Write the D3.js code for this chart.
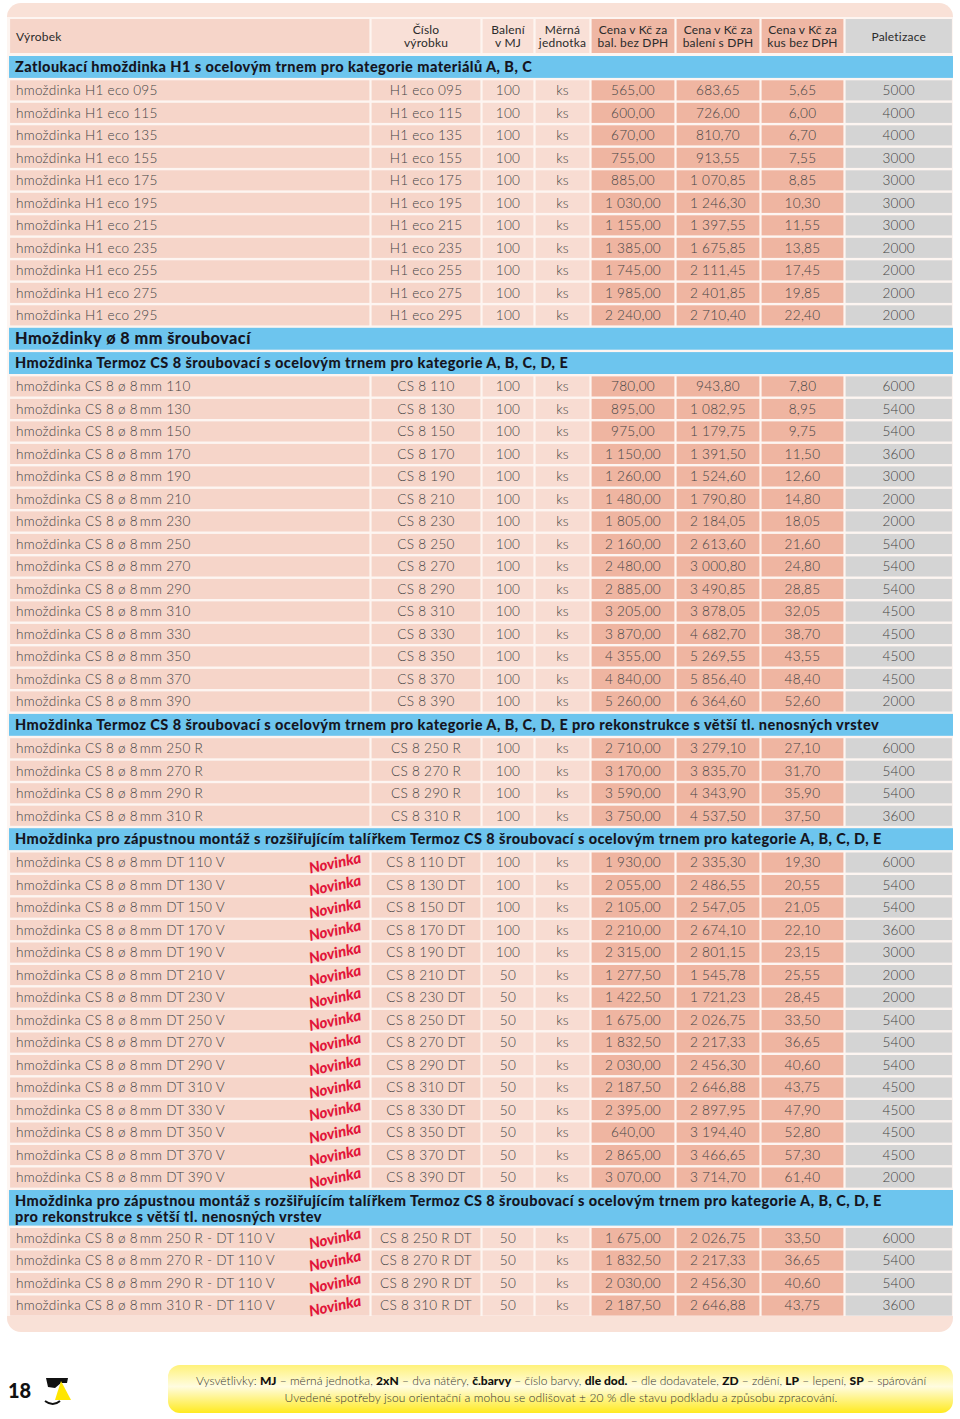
<!DOCTYPE html>
<html lang="cs">
<head>
<meta charset="UTF-8">
<title>Ceník hmoždinek</title>
<style>
    body { margin: 0; padding: 0; background: #fff; overflow: hidden; }
    svg { display: block; font-family: Lato, "Noto Sans", sans-serif; }
</style>
</head>
<body>
<svg id="sheet" width="960" height="1419"></svg>
<script src="https://cdn.jsdelivr.net/npm/d3@7/dist/d3.min.js"></script>
<script>
// ---- data ----
const headers = [["Výrobek"], ["Číslo", "výrobku"], ["Balení", "v MJ"], ["Měrná", "jednotka"],
    ["Cena v Kč za", "bal. bez DPH"], ["Cena v Kč za", "balení s DPH"], ["Cena v Kč za", "kus bez DPH"], ["Paletizace"]];

const sectionTitles = [
    ["Zatloukací hmoždinka H1 s ocelovým trnem pro kategorie materiálů A, B, C"],
    ["Hmoždinky ø 8 mm šroubovací"],
    ["Hmoždinka Termoz CS 8 šroubovací s ocelovým trnem pro kategorie A, B, C, D, E"],
    ["Hmoždinka Termoz CS 8 šroubovací s ocelovým trnem pro kategorie A, B, C, D, E pro rekonstrukce s větší tl. nenosných vrstev"],
    ["Hmoždinka pro zápustnou montáž s rozšiřujícím talířkem Termoz CS 8 šroubovací s ocelovým trnem pro kategorie A, B, C, D, E"],
    ["Hmoždinka pro zápustnou montáž s rozšiřujícím talířkem Termoz CS 8 šroubovací s ocelovým trnem pro kategorie A, B, C, D, E",
     "pro rekonstrukce s větší tl. nenosných vrstev"]
];

// [název, číslo, balení, MJ, cena bal. bez DPH, cena bal. s DPH, cena kus, paletizace]
const h1Rows = [
    ["hmoždinka H1 eco 095", "H1 eco 095", "100", "ks", "565,00", "683,65", "5,65", "5000"],
    ["hmoždinka H1 eco 115", "H1 eco 115", "100", "ks", "600,00", "726,00", "6,00", "4000"],
    ["hmoždinka H1 eco 135", "H1 eco 135", "100", "ks", "670,00", "810,70", "6,70", "4000"],
    ["hmoždinka H1 eco 155", "H1 eco 155", "100", "ks", "755,00", "913,55", "7,55", "3000"],
    ["hmoždinka H1 eco 175", "H1 eco 175", "100", "ks", "885,00", "1 070,85", "8,85", "3000"],
    ["hmoždinka H1 eco 195", "H1 eco 195", "100", "ks", "1 030,00", "1 246,30", "10,30", "3000"],
    ["hmoždinka H1 eco 215", "H1 eco 215", "100", "ks", "1 155,00", "1 397,55", "11,55", "3000"],
    ["hmoždinka H1 eco 235", "H1 eco 235", "100", "ks", "1 385,00", "1 675,85", "13,85", "2000"],
    ["hmoždinka H1 eco 255", "H1 eco 255", "100", "ks", "1 745,00", "2 111,45", "17,45", "2000"],
    ["hmoždinka H1 eco 275", "H1 eco 275", "100", "ks", "1 985,00", "2 401,85", "19,85", "2000"],
    ["hmoždinka H1 eco 295", "H1 eco 295", "100", "ks", "2 240,00", "2 710,40", "22,40", "2000"]
];

const cs8Rows = [
    ["hmoždinka CS 8 ø 8 mm 110", "CS 8 110", "100", "ks", "780,00", "943,80", "7,80", "6000"],
    ["hmoždinka CS 8 ø 8 mm 130", "CS 8 130", "100", "ks", "895,00", "1 082,95", "8,95", "5400"],
    ["hmoždinka CS 8 ø 8 mm 150", "CS 8 150", "100", "ks", "975,00", "1 179,75", "9,75", "5400"],
    ["hmoždinka CS 8 ø 8 mm 170", "CS 8 170", "100", "ks", "1 150,00", "1 391,50", "11,50", "3600"],
    ["hmoždinka CS 8 ø 8 mm 190", "CS 8 190", "100", "ks", "1 260,00", "1 524,60", "12,60", "3000"],
    ["hmoždinka CS 8 ø 8 mm 210", "CS 8 210", "100", "ks", "1 480,00", "1 790,80", "14,80", "2000"],
    ["hmoždinka CS 8 ø 8 mm 230", "CS 8 230", "100", "ks", "1 805,00", "2 184,05", "18,05", "2000"],
    ["hmoždinka CS 8 ø 8 mm 250", "CS 8 250", "100", "ks", "2 160,00", "2 613,60", "21,60", "5400"],
    ["hmoždinka CS 8 ø 8 mm 270", "CS 8 270", "100", "ks", "2 480,00", "3 000,80", "24,80", "5400"],
    ["hmoždinka CS 8 ø 8 mm 290", "CS 8 290", "100", "ks", "2 885,00", "3 490,85", "28,85", "5400"],
    ["hmoždinka CS 8 ø 8 mm 310", "CS 8 310", "100", "ks", "3 205,00", "3 878,05", "32,05", "4500"],
    ["hmoždinka CS 8 ø 8 mm 330", "CS 8 330", "100", "ks", "3 870,00", "4 682,70", "38,70", "4500"],
    ["hmoždinka CS 8 ø 8 mm 350", "CS 8 350", "100", "ks", "4 355,00", "5 269,55", "43,55", "4500"],
    ["hmoždinka CS 8 ø 8 mm 370", "CS 8 370", "100", "ks", "4 840,00", "5 856,40", "48,40", "4500"],
    ["hmoždinka CS 8 ø 8 mm 390", "CS 8 390", "100", "ks", "5 260,00", "6 364,60", "52,60", "2000"]
];

const cs8RRows = [
    ["hmoždinka CS 8 ø 8 mm 250 R", "CS 8 250 R", "100", "ks", "2 710,00", "3 279,10", "27,10", "6000"],
    ["hmoždinka CS 8 ø 8 mm 270 R", "CS 8 270 R", "100", "ks", "3 170,00", "3 835,70", "31,70", "5400"],
    ["hmoždinka CS 8 ø 8 mm 290 R", "CS 8 290 R", "100", "ks", "3 590,00", "4 343,90", "35,90", "5400"],
    ["hmoždinka CS 8 ø 8 mm 310 R", "CS 8 310 R", "100", "ks", "3 750,00", "4 537,50", "37,50", "3600"]
];

const dtRows = [
    ["hmoždinka CS 8 ø 8 mm DT 110 V", "CS 8 110 DT", "100", "ks", "1 930,00", "2 335,30", "19,30", "6000"],
    ["hmoždinka CS 8 ø 8 mm DT 130 V", "CS 8 130 DT", "100", "ks", "2 055,00", "2 486,55", "20,55", "5400"],
    ["hmoždinka CS 8 ø 8 mm DT 150 V", "CS 8 150 DT", "100", "ks", "2 105,00", "2 547,05", "21,05", "5400"],
    ["hmoždinka CS 8 ø 8 mm DT 170 V", "CS 8 170 DT", "100", "ks", "2 210,00", "2 674,10", "22,10", "3600"],
    ["hmoždinka CS 8 ø 8 mm DT 190 V", "CS 8 190 DT", "100", "ks", "2 315,00", "2 801,15", "23,15", "3000"],
    ["hmoždinka CS 8 ø 8 mm DT 210 V", "CS 8 210 DT", "50", "ks", "1 277,50", "1 545,78", "25,55", "2000"],
    ["hmoždinka CS 8 ø 8 mm DT 230 V", "CS 8 230 DT", "50", "ks", "1 422,50", "1 721,23", "28,45", "2000"],
    ["hmoždinka CS 8 ø 8 mm DT 250 V", "CS 8 250 DT", "50", "ks", "1 675,00", "2 026,75", "33,50", "5400"],
    ["hmoždinka CS 8 ø 8 mm DT 270 V", "CS 8 270 DT", "50", "ks", "1 832,50", "2 217,33", "36,65", "5400"],
    ["hmoždinka CS 8 ø 8 mm DT 290 V", "CS 8 290 DT", "50", "ks", "2 030,00", "2 456,30", "40,60", "5400"],
    ["hmoždinka CS 8 ø 8 mm DT 310 V", "CS 8 310 DT", "50", "ks", "2 187,50", "2 646,88", "43,75", "4500"],
    ["hmoždinka CS 8 ø 8 mm DT 330 V", "CS 8 330 DT", "50", "ks", "2 395,00", "2 897,95", "47,90", "4500"],
    ["hmoždinka CS 8 ø 8 mm DT 350 V", "CS 8 350 DT", "50", "ks", "640,00", "3 194,40", "52,80", "4500"],
    ["hmoždinka CS 8 ø 8 mm DT 370 V", "CS 8 370 DT", "50", "ks", "2 865,00", "3 466,65", "57,30", "4500"],
    ["hmoždinka CS 8 ø 8 mm DT 390 V", "CS 8 390 DT", "50", "ks", "3 070,00", "3 714,70", "61,40", "2000"]
];

const dtRRows = [
    ["hmoždinka CS 8 ø 8 mm 250 R - DT 110 V", "CS 8 250 R DT", "50", "ks", "1 675,00", "2 026,75", "33,50", "6000"],
    ["hmoždinka CS 8 ø 8 mm 270 R - DT 110 V", "CS 8 270 R DT", "50", "ks", "1 832,50", "2 217,33", "36,65", "5400"],
    ["hmoždinka CS 8 ø 8 mm 290 R - DT 110 V", "CS 8 290 R DT", "50", "ks", "2 030,00", "2 456,30", "40,60", "5400"],
    ["hmoždinka CS 8 ø 8 mm 310 R - DT 110 V", "CS 8 310 R DT", "50", "ks", "2 187,50", "2 646,88", "43,75", "3600"]
];

const sectionRows = [h1Rows, [], cs8Rows, cs8RRows, dtRows, dtRRows];
const novinkaSections = [4, 5];
const novinkaLabel = "Novinka";

const footerLine1 = [["Vysvětlivky: ", 0], ["MJ", 1], [" – měrná jednotka, ", 0], ["2xN", 1], [" – dva nátěry, ", 0],
    ["č.barvy", 1], [" – číslo barvy, ", 0], ["dle dod.", 1], [" – dle dodavatele, ", 0], ["ZD", 1], [" – zdění, ", 0],
    ["LP", 1], [" – lepení, ", 0], ["SP", 1], [" – spárování", 0]];
const footerLine2 = "Uvedené spotřeby jsou orientační a mohou se odlišovat ± 20 % dle stavu podkladu a způsobu zpracování.";
const pageNumber = "18";

// ---- layout ----
const colEdges = [9, 370.5, 481.5, 534.5, 590.5, 675.5, 760.5, 844.5, 953];
const colFill = ["#f6d5c9", "#f6d5c9", "#f8dcd2", "#f8dcd2", "#efb5a1", "#efb5a1", "#efb5a1", "#d4d4d4"];
const headFill = ["#f6d5c9", "#f9e0d7", "#f9e0d7", "#f9e0d7", "#efb7a4", "#efb7a4", "#efb7a4", "#d6d6d6"];
const gap = 2.2;
const rowPitch = 22.5, secPitch = 24.3, secPitchDouble = 38;

const svg = d3.select("#sheet");

// column scale: index -> left edge
const xs = d3.scaleOrdinal().domain(d3.range(colEdges.length)).range(colEdges);
const colX0 = i => xs(i) + gap / 2;
const colW = i => xs(i + 1) - xs(i) - gap;
const colMid = i => (xs(i) + xs(i + 1)) / 2;

// the print uses a tight space in "8 mm"
const tight = s => s.replace("8 mm", "8\u2009mm");

// panel
svg.append("rect")
    .attr("x", 7).attr("y", 3).attr("width", 946).attr("height", 1329)
    .attr("rx", 14).attr("fill", "#f9e1d7");
svg.append("rect")
    .attr("x", 7).attr("y", 17).attr("width", 946).attr("height", 1299)
    .attr("fill", "#fdf5f1");

// header
const head = svg.append("g");
headers.forEach((h, i) => {
    head.append("rect")
        .attr("x", colX0(i)).attr("y", 19).attr("width", colW(i)).attr("height", 34)
        .attr("fill", headFill[i]);
    const t = head.append("text")
        .attr("x", i === 0 ? 16 : colMid(i))
        .attr("text-anchor", i === 0 ? "start" : "middle")
        .attr("font-size", 12).attr("letter-spacing", 0.2).attr("fill", "#2b2b2b");
    if (h.length === 1) {
        t.attr("y", 40.5).text(h[0]);
    } else {
        h.forEach((line, k) => t.append("tspan").attr("x", colMid(i)).attr("y", 34 + k * 13).text(line));
    }
});

// build rows list
const layoutRows = [];
let y = 56;
sectionTitles.forEach((title, s) => {
    const hgt = title.length > 1 ? secPitchDouble : secPitch;
    layoutRows.push({ type: "section", title, y, h: hgt - 2.4 });
    y += hgt;
    sectionRows[s].forEach(r => {
        layoutRows.push({ type: "row", cells: r, y, h: rowPitch - 2.4, novinka: novinkaSections.includes(s) });
        y += rowPitch;
    });
});

const body = svg.append("g");

const sections = body.selectAll("g.section")
    .data(layoutRows.filter(d => d.type === "section"))
    .join("g").attr("class", "section");
sections.append("rect")
    .attr("x", 9).attr("y", d => d.y).attr("width", 944).attr("height", d => d.h)
    .attr("fill", "#6dc5ee");
sections.each(function (d) {
    const g = d3.select(this);
    const big = d.title[0].startsWith("Hmoždinky");
    d.title.forEach((line, k) => {
        g.append("text")
            .attr("x", 15)
            .attr("y", d.y + 16 + k * 16)
            .attr("font-size", big ? 16.3 : 14.5)
            .attr("letter-spacing", 0.45)
            .attr("font-weight", 900)
            .attr("fill", "#15151f")
            .text(line);
    });
});

const rows = body.selectAll("g.row")
    .data(layoutRows.filter(d => d.type === "row"))
    .join("g").attr("class", "row");

rows.selectAll("rect")
    .data(d => d.cells.map((c, i) => ({ i, y: d.y, h: d.h })))
    .join("rect")
    .attr("x", d => colX0(d.i)).attr("y", d => d.y)
    .attr("width", d => colW(d.i)).attr("height", d => d.h)
    .attr("fill", d => colFill[d.i]);

rows.selectAll("text.cell")
    .data(d => d.cells.map((c, i) => ({ i, c, y: d.y, h: d.h })))
    .join("text")
    .attr("class", "cell")
    .attr("x", d => d.i === 0 ? 16 : colMid(d.i))
    .attr("y", d => d.y + d.h / 2 + 4.8)
    .attr("text-anchor", d => d.i === 0 ? "start" : "middle")
    .attr("font-size", 13.6)
    .attr("letter-spacing", 0.25)
    .attr("font-weight", 300)
    .attr("fill", "#444")
    .text(d => d.i === 0 ? tight(d.c) : d.c);

rows.filter(d => d.novinka)
    .append("text")
    .attr("transform", d => `translate(336,${d.y + d.h / 2 + 5.5}) rotate(-12)`)
    .attr("text-anchor", "middle")
    .attr("font-size", 15)
    .attr("font-weight", 900)
    .attr("font-style", "italic")
    .attr("fill", "#e2163a")
    .text(novinkaLabel);

// footer
const defs = svg.append("defs");
const grad = defs.append("linearGradient").attr("id", "yel").attr("x1", 0).attr("y1", 0).attr("x2", 0).attr("y2", 1);
grad.append("stop").attr("offset", "0%").attr("stop-color", "#fff27a");
grad.append("stop").attr("offset", "45%").attr("stop-color", "#fffce0");
grad.append("stop").attr("offset", "100%").attr("stop-color", "#ffea1f");

svg.append("rect")
    .attr("x", 168).attr("y", 1365).attr("width", 785).attr("height", 48)
    .attr("rx", 12).attr("fill", "url(#yel)");

const f1 = svg.append("text")
    .attr("x", 561).attr("y", 1385)
    .attr("text-anchor", "middle")
    .attr("font-size", 12).attr("fill", "#333");
footerLine1.forEach(([t, b]) => f1.append("tspan")
    .attr("font-weight", b ? 900 : 300)
    .attr("fill", b ? "#111" : "#333")
    .text(t));

svg.append("text")
    .attr("x", 561).attr("y", 1402)
    .attr("text-anchor", "middle")
    .attr("font-size", 12).attr("letter-spacing", 0.1).attr("font-weight", 300).attr("fill", "#333")
    .text(footerLine2);

svg.append("text")
    .attr("x", 8).attr("y", 1398)
    .attr("font-size", 20).attr("font-weight", 900).attr("fill", "#111")
    .text(pageNumber);

// logo
const logo = svg.append("g");
logo.append("path")
    .attr("d", "M46,1378 L68,1378 L67,1383 L61,1383 L55,1388 L48,1387 Z")
    .attr("fill", "#111");
logo.append("path")
    .attr("d", "M61,1381 L71,1400 L55,1400 Z")
    .attr("fill", "#ffe600");
logo.append("path")
    .attr("d", "M45,1401 Q53,1407 60,1401")
    .attr("fill", "none").attr("stroke", "#111").attr("stroke-width", 2);
</script>
</body>
</html>
